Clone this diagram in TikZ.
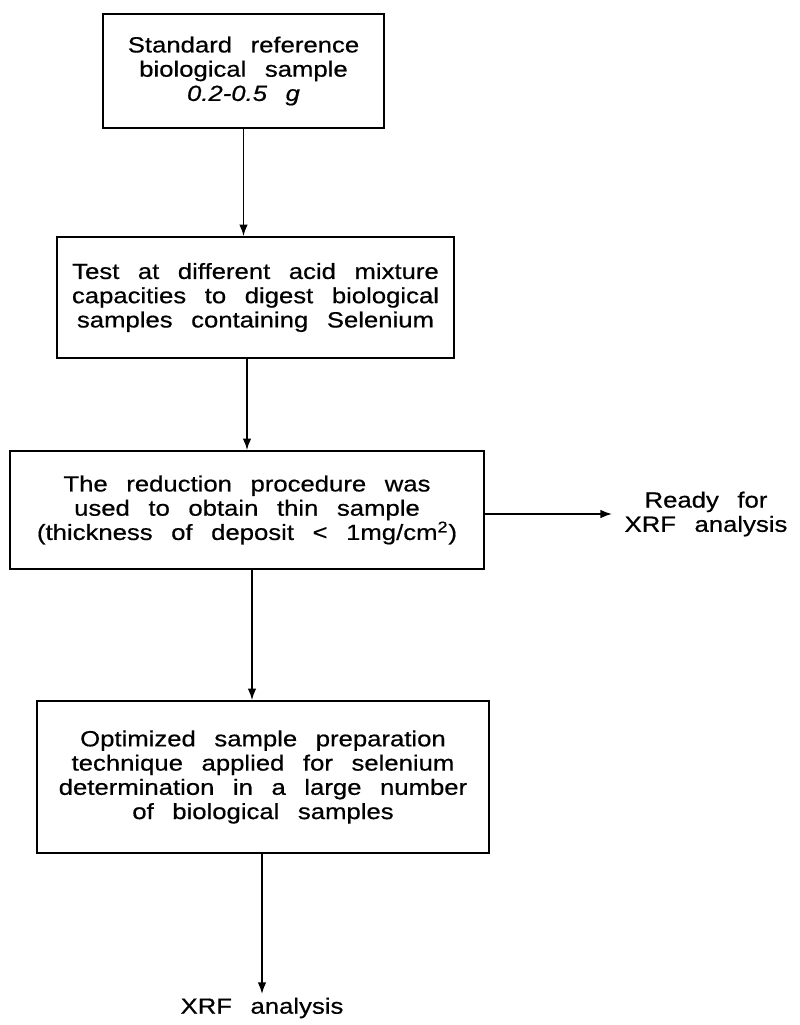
\documentclass[tikz,border=0pt]{standalone}
\usepackage{fontspec}
\setmainfont{Liberation Sans}[FakeStretch=1.17,WordSpace=2.6,FakeBold=0.6]
\usetikzlibrary{positioning}
\usetikzlibrary{arrows.meta}

\begin{document}
\begin{tikzpicture}[x=0.02cm,y=-0.02cm]
\tikzset{stepbox/.style={draw, line width=1.1pt, align=center, inner sep=0pt,
  font=\fontsize{12.5}{13.8}\selectfont}}
\tikzset{flow/.style={-{Latex[length=2.3mm,width=1.7mm]}, line width=0.8pt}}
\useasboundingbox (0,0) rectangle (799,1025);

\node[stepbox, minimum width=5.62cm, minimum height=2.28cm] (sample) at (243.5,71)
  {Standard reference\\biological sample\\\itshape 0.2-0.5 g};
\node[stepbox, minimum width=7.94cm, minimum height=2.42cm] (digest) at (255.5,297.5)
  {Test at different acid mixture\\capacities to digest biological\\samples containing Selenium};
\node[stepbox, minimum width=9.48cm, minimum height=2.36cm] (reduce) at (247,510)
  {The reduction procedure was\\used to obtain thin sample\\(thickness of deposit {<} 1mg/cm\textsuperscript{2})};
\node[stepbox, minimum width=9.04cm, minimum height=3.04cm] (optim) at (263,777)
  {Optimized sample preparation\\technique applied for selenium\\determination in a large number\\of biological samples};

\path (706,514) node[align=center, inner sep=7pt, font=\fontsize{12.5}{13.8}\selectfont] (ready) {Ready for\\XRF analysis};
\path (262,1008) node[inner sep=2pt, font=\fontsize{12.5}{13.8}\selectfont] (xrf) {XRF analysis};

\draw[flow] (sample.south) -- (sample.south |- digest.north);
\draw[flow] (digest.south -| reduce.north) -- (reduce.north);
\draw[flow] ([xshift=0.1cm]reduce.south) -- ([xshift=0.1cm]reduce.south |- optim.north);
\draw[flow] (optim.south -| xrf.north) -- (xrf.north);
\draw[flow] (reduce.east |- ready.west) -- (ready.west);

\end{tikzpicture}
\end{document}
